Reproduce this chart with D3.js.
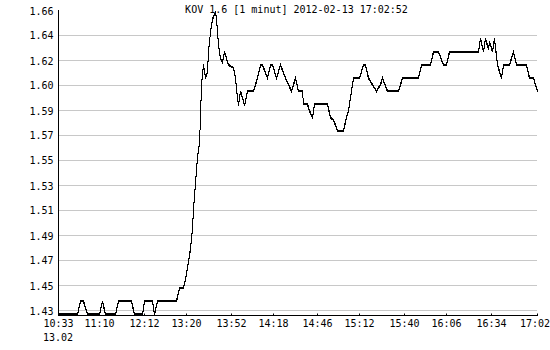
<!DOCTYPE html>
<html><head><meta charset="utf-8">
<script src="https://cdn.jsdelivr.net/npm/d3@7"></script>
<style>
html,body{margin:0;padding:0;background:#fff;}
text{font-family:"DejaVu Sans Mono",monospace;font-size:10px;fill:#000;}
</style></head>
<body><svg id="c" width="550" height="350"></svg>
<script>
const titleText = "KOV 1.6 [1 minut] 2012-02-13 17:02:52";
const dateLabel = "13.02";
// minute index of each vertex of the line
const pointIndex = [0,19,22,25,29,41,44,47,57,60,73,76,84,86,94,96,99,118,121,125,127,130,132,134,135,137,139,141,142,143,145,147,149,150,152,154,157,158,160,162,164,166,168,170,175,177,179,180,182,184,186,189,195,199,202,204,209,212,214,218,222,227,230,233,237,240,244,245,249,251,254,256,269,272,275,279,285,288,290,292,295,301,305,307,310,314,318,322,324,329,340,344,360,363,372,375,380,385,388,391,420,422,425,427,430,431,434,436,439,443,445,451,455,458,468,471,475,477,479];
// price at each vertex
const pointPrice = [1.43,1.43,1.44,1.44,1.43,1.43,1.44,1.43,1.43,1.44,1.44,1.43,1.43,1.44,1.44,1.43,1.44,1.44,1.45,1.45,1.457,1.47,1.48,1.495,1.51,1.53,1.55,1.56,1.58,1.605,1.62,1.61,1.615,1.63,1.645,1.655,1.66,1.655,1.635,1.625,1.622,1.63,1.625,1.62,1.618,1.61,1.595,1.589,1.60,1.595,1.589,1.60,1.60,1.61,1.62,1.62,1.61,1.62,1.62,1.61,1.62,1.61,1.605,1.60,1.61,1.60,1.60,1.59,1.59,1.585,1.58,1.59,1.59,1.58,1.578,1.57,1.57,1.58,1.585,1.595,1.61,1.61,1.62,1.62,1.61,1.605,1.60,1.605,1.61,1.60,1.60,1.61,1.61,1.62,1.62,1.63,1.63,1.62,1.62,1.63,1.63,1.64,1.63,1.64,1.632,1.638,1.63,1.64,1.62,1.61,1.62,1.62,1.63,1.62,1.62,1.61,1.61,1.605,1.60];
const xTickIdx = [0,41,86,128,173,215,259,301,346,388,433,479];
const xTickLabels = ["10:33","11:10","12:12","13:20","13:52","14:18","14:46","15:12","15:40","16:06","16:34","17:02"];
const yTickValues = [1.6615,1.6425,1.6234,1.6044,1.5853,1.5663,1.5473,1.5282,1.5092,1.4901,1.4711,1.4520,1.4330];
const yDomain = [1.4292, 1.6615];

const svg = d3.select("#c");
const L = 58, R = 537, T = 10, B = 315;
const x = d3.scaleLinear().domain([0, 479]).range([L, R]);
const y = d3.scaleLinear().domain(yDomain).range([B, T]);

// gridlines
svg.append("g").selectAll("line").data(yTickValues.slice(1)).join("line")
  .attr("x1", L).attr("x2", R)
  .attr("y1", d => Math.round(y(d)) + 0.5).attr("y2", d => Math.round(y(d)) + 0.5)
  .attr("stroke", "#c8c8c8").attr("stroke-width", 1);

// y axis
const ya = svg.append("g").attr("transform", `translate(${L + 0.5},0)`)
  .call(d3.axisLeft(y).tickValues(yTickValues).tickFormat(d3.format(".2f")).tickSizeInner(0).tickSizeOuter(0).tickPadding(5));
ya.select(".domain").attr("stroke", "#000").attr("d", `M0,${T}V${B}`);
ya.selectAll("text").attr("dy", "0.4em").style("font-family", '"DejaVu Sans Mono",monospace').style("font-size", "10px");

// x axis
const xa = svg.append("g").attr("transform", `translate(0,${B + 0.5})`)
  .call(d3.axisBottom(x).tickValues(xTickIdx).tickFormat((d, i) => xTickLabels[i]).tickSizeInner(-2).tickSizeOuter(0).tickPadding(4));
xa.select(".domain").attr("stroke", "#000").attr("d", `M${L},0H${R + 1}`);
xa.selectAll(".tick line").attr("stroke", "#000");
xa.selectAll("text").attr("y", 4).attr("dy", "0.71em").style("font-family", '"DejaVu Sans Mono",monospace').style("font-size", "10px");
// keep the last label inside the picture
xa.selectAll(".tick text").filter((d, i) => i === xTickIdx.length - 1).attr("x", -2.5);

svg.append("text").attr("x", x(0)).attr("y", 340.5).attr("text-anchor", "middle").text(dateLabel);

// title
svg.append("text").attr("x", 296.5).attr("y", 13).attr("text-anchor", "middle").text(titleText);

// price line
const pts = pointIndex.map((d, i) => [d, pointPrice[i]]);
const line = d3.line().x(d => x(d[0])).y(d => y(d[1]));
[0, 1].forEach(off => {
  svg.append("path").datum(pts).attr("d", line)
    .attr("transform", `translate(0.5,${off})`)
    .attr("fill", "none").attr("stroke", "#000").attr("stroke-width", 1)
    .attr("shape-rendering", "crispEdges");
});
</script></body></html>
